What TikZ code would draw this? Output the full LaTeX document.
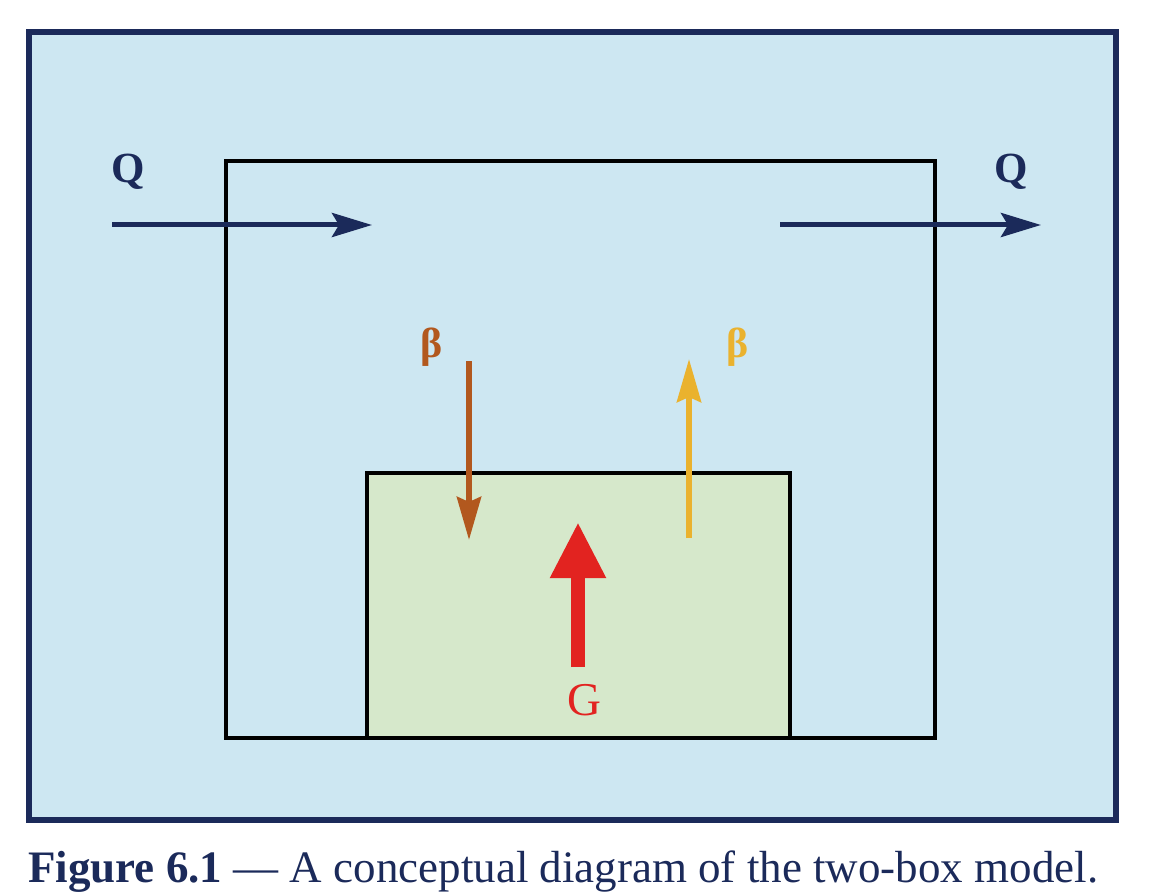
\documentclass[tikz,border=0pt]{standalone}
\usepackage{fontspec}
\setmainfont{Liberation Serif}
\usetikzlibrary{arrows.meta}
\definecolor{mnavy}{RGB}{27,42,90}
\definecolor{msky}{RGB}{205,231,242}
\definecolor{mgreen}{RGB}{214,232,203}
\definecolor{mbrown}{RGB}{178,88,30}
\definecolor{mgold}{RGB}{234,178,46}
\definecolor{mred}{RGB}{226,35,32}
\tikzset{box/.style = {draw=black, line width=4pt}}
\tikzset{flux/.style = {line width=5pt, draw=mnavy, -{Stealth[length=40pt, width=24pt, inset=7pt]}}}
\tikzset{beta/.style = {line width=6pt, -{Stealth[length=43pt, width=24pt, inset=5pt]}}}
\tikzset{lbl/.style = {anchor=base, inner sep=0, font=\fontsize{42}{42}\selectfont}}

\begin{document}
\begin{tikzpicture}[x=1pt, y=-1pt]
    \useasboundingbox (0,0) rectangle (1152,896);
    \fill [white] (0,0) rectangle (1152,896);

    \draw [line width=6pt, draw=mnavy, fill=msky] (29,32) rectangle (1116,820);
    \draw [box] (226,161) rectangle (935,738);
    \draw [box, fill=mgreen] (367,473) rectangle (790,738);

    % inflow and outflow
    \coordinate (inA) at (112,225);
    \coordinate (inB) at (372,225);
    \coordinate (outA) at (780,225);
    \coordinate (outB) at (1041,225);
    \draw [flux] (inA) -- (inB);
    \draw [flux] (outA) -- (outB);
    \node [lbl, text=mnavy, font=\bfseries\fontsize{43}{43}\selectfont] (qin) at (128,183) {Q};
    \node [lbl, text=mnavy, font=\bfseries\fontsize{43}{43}\selectfont] (qout) at (1011,183) {Q};

    % exchange
    \coordinate (downA) at (469,361);
    \coordinate (downB) at (469,540);
    \coordinate (upA) at (689,538);
    \coordinate (upB) at (689,359);
    \draw [beta, draw=mbrown] (downA) -- (downB);
    \draw [beta, draw=mgold] (upA) -- (upB);
    \node [lbl, text=mbrown, font=\bfseries\fontsize{42}{42}\selectfont] (bdown) at (432,357) {β};
    \node [lbl, text=mgold, font=\bfseries\fontsize{42}{42}\selectfont] (bup) at (738,357) {β};

    % source
    \coordinate (gA) at (578,667);
    \coordinate (gB) at (578,522);
    \draw [line width=14pt, draw=mred, -{Triangle[length=56pt, width=52pt]}] (gA) -- (gB);
    \node [lbl, text=mred, font=\fontsize{47}{47}\selectfont] (g) at (584,715) {G};

    \node [anchor=base west, inner sep=0, text=mnavy, font=\fontsize{45}{45}\selectfont] (cap) at (28,882)
      {\textbf{Figure 6.1} — A conceptual diagram of the two-box model.};
\end{tikzpicture}
\end{document}
